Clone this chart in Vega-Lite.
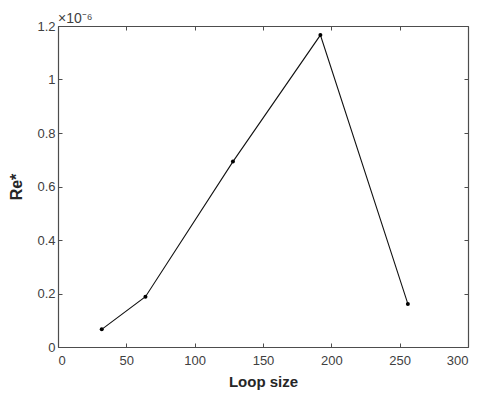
{
  "$schema": "https://vega.github.io/schema/vega-lite/v6.json",
  "autosize": "none",
  "width": 410,
  "height": 321,
  "padding": {"left": 58, "top": 26, "right": 14, "bottom": 53},
  "background": "white",
  "config": {
    "view": {"stroke": null},
    "font": "Liberation Sans",
    "axis": {"grid": false, "domainColor": "#4d4d4d", "tickColor": "#4d4d4d", "labelColor": "#404040", "labelFont": "Liberation Sans", "labelFontSize": 13, "titleFont": "Liberation Sans", "titleColor": "#262626", "tickSize": -4, "domainWidth": 1.2}
  },
  "title": {"text": "×10⁻⁶", "anchor": "start", "frame": "group", "fontSize": 14, "fontWeight": "normal", "color": "#404040", "offset": -6, "font": "Liberation Sans"},
  "data": {"values": [
    {"loop": 32, "re": 6.6e-8},
    {"loop": 64, "re": 1.88e-7},
    {"loop": 128, "re": 6.93e-7},
    {"loop": 192, "re": 1.166e-6},
    {"loop": 256, "re": 1.61e-7}
  ]},
  "resolve": {"axis": {"x": "independent", "y": "independent"}},
  "layer": [
    {
      "mark": {"type": "line", "color": "#111111", "strokeWidth": 1.1, "point": {"filled": true, "color": "#000000", "size": 16}},
      "encoding": {
        "x": {"field": "loop", "type": "quantitative", "scale": {"domain": [0, 300], "nice": false}, "axis": {"orient": "bottom", "values": [0, 50, 100, 150, 200, 250, 300], "title": "Loop size", "titleFontSize": 15, "titleFontWeight": "bold", "labelPadding": 11, "titlePadding": 7}},
        "y": {"field": "re", "type": "quantitative", "scale": {"domain": [0, 1.2e-6], "nice": false}, "axis": {"orient": "left", "values": [0, 2e-7, 4e-7, 6e-7, 8e-7, 1e-6, 1.2e-6], "labelExpr": "format(datum.value*1e6, '.1~f')", "title": "Re*", "titleFontSize": 16, "titleFontWeight": "bold", "labelPadding": 7, "titlePadding": 12}}
      }
    },
    {
      "mark": {"type": "point", "opacity": 0},
      "encoding": {
        "x": {"field": "loop", "type": "quantitative", "axis": {"orient": "top", "values": [0, 50, 100, 150, 200, 250, 300], "labels": false, "title": null}},
        "y": {"field": "re", "type": "quantitative", "axis": {"orient": "right", "values": [0, 2e-7, 4e-7, 6e-7, 8e-7, 1e-6, 1.2e-6], "labels": false, "title": null}}
      }
    }
  ]
}
